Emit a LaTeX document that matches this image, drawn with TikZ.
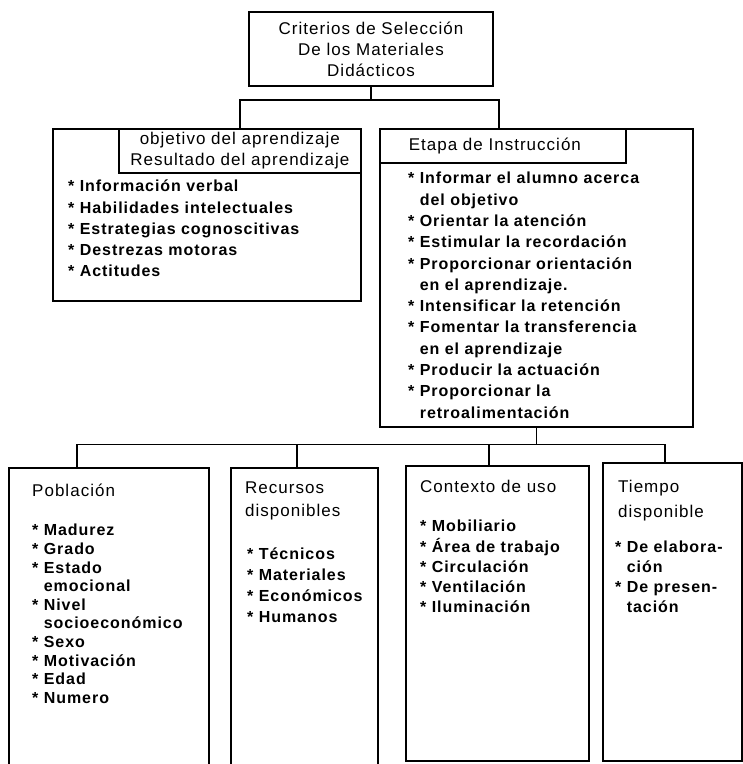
\documentclass[tikz,border=0pt]{standalone}
\usepackage{fontspec}
\setmainfont{Liberation Sans}[LetterSpace=6]
\usetikzlibrary{calc}
\newcommand{\itm}{*\ }
\newcommand{\cnt}{\phantom{*\ }}
\newcommand{\hdrfont}[1]{\fontsize{17}{#1}\selectfont}
\newcommand{\itmfont}[1]{\fontsize{16}{#1}\selectfont\bfseries}
\tikzset{
  box/.style={draw,line width=1.6pt,inner sep=0pt},
  hdr/.style={box,fill=white,font=\hdrfont{21}},
  txt/.style={anchor=north west,inner sep=0pt,align=left},
  link/.style={line width=1.4pt}
}

\begin{document}
\begin{tikzpicture}[x=1pt,y=-1pt]
  \useasboundingbox (0,0) rectangle (743,764);
  % root
  \node[box,font=\hdrfont{21},align=center,minimum width=244pt,minimum height=74pt] (root) at (371,49)
    {Criterios de Selección\\De los Materiales\\Didácticos};
  % second level
  \node[box,anchor=north west,minimum width=308pt,minimum height=172pt] (obj) at (52,128) {};
  \node[hdr,anchor=north east,align=center,minimum width=242pt,minimum height=44pt] (objhdr) at (obj.north east)
    {objetivo del aprendizaje\\Resultado del aprendizaje};
  \node[txt,font=\itmfont{21.2}] (objlist) at (68,180)
    {\itm Información verbal\\\itm Habilidades intelectuales\\\itm Estrategias cognoscitivas\\
     \itm Destrezas motoras\\\itm Actitudes};
  \node[box,anchor=north west,minimum width=313pt,minimum height=298pt] (etapa) at (379,128) {};
  \node[hdr,anchor=north west,text width=188pt,align=left,inner xsep=29pt,minimum height=34pt] (etapahdr)
    at (etapa.north west) {Etapa de Instrucción};
  \node[txt,font=\itmfont{21.3}] (etapalist) at (408,172)
    {\itm Informar el alumno acerca\\\cnt del objetivo\\\itm Orientar la atención\\
     \itm Estimular la recordación\\\itm Proporcionar orientación\\\cnt en el aprendizaje.\\
     \itm Intensificar la retención\\\itm Fomentar la transferencia\\\cnt en el aprendizaje\\
     \itm Producir la actuación\\\itm Proporcionar la\\\cnt retroalimentación};
  % third level
  \node[box,anchor=north west,minimum width=200pt,minimum height=297pt] (pob) at (8,467) {};
  \node[txt,font=\hdrfont{21}] (pobtit) at (32,484) {Población};
  \node[txt,font=\itmfont{18.6}] (poblist) at (32,524)
    {\itm Madurez\\\itm Grado\\\itm Estado\\\cnt emocional\\\itm Nivel\\\cnt socioeconómico\\
     \itm Sexo\\\itm Motivación\\\itm Edad\\\itm Numero};
  \node[box,anchor=north west,minimum width=147pt,minimum height=297pt] (rec) at (230,467) {};
  \node[txt,font=\hdrfont{22.5}] (rectit) at (245,482) {Recursos\\disponibles};
  \node[txt,font=\itmfont{21}] (reclist) at (247,548)
    {\itm Técnicos\\\itm Materiales\\\itm Económicos\\\itm Humanos};
  \node[box,anchor=north west,minimum width=183pt,minimum height=295pt] (ctx) at (405,465) {};
  \node[txt,font=\hdrfont{21}] (ctxtit) at (420,480) {Contexto de uso};
  \node[txt,font=\itmfont{20.2}] (ctxlist) at (420,520)
    {\itm Mobiliario\\\itm Área de trabajo\\\itm Circulación\\\itm Ventilación\\\itm Iluminación};
  \node[box,anchor=north west,minimum width=139pt,minimum height=298pt] (tmp) at (602,462) {};
  \node[txt,font=\hdrfont{25}] (tmptit) at (618,480) {Tiempo\\disponible};
  \node[txt,font=\itmfont{20}] (tmplist) at (615,541)
    {\itm De elabora-\\\cnt ción\\\itm De presen-\\\cnt tación};
  % connectors
  \coordinate (bus1) at ($(root.south)+(0,13)$);
  \coordinate (objdrop) at ($(obj.north west)+(188,0)$);
  \coordinate (etapadrop) at ($(etapa.north west)+(120,0)$);
  \draw[link] (root.south) -- (bus1);
  \draw[link] (objdrop) |- (bus1) -| (etapadrop);
  \coordinate (bus2) at ($(etapa.south)+(0,17)$);
  \coordinate (pobdrop) at ($(pob.north west)+(69,0)$);
  \coordinate (recdrop) at ($(rec.north west)+(67,0)$);
  \coordinate (ctxdrop) at ($(ctx.north west)+(84,0)$);
  \coordinate (tmpdrop) at ($(tmp.north west)+(63,0)$);
  \draw[link] (etapa.south) -- (bus2);
  \draw[link] (pobdrop) |- (bus2) -| (tmpdrop);
  \draw[link] (recdrop) -- (recdrop |- bus2);
  \draw[link] (ctxdrop) -- (ctxdrop |- bus2);
\end{tikzpicture}
\end{document}
